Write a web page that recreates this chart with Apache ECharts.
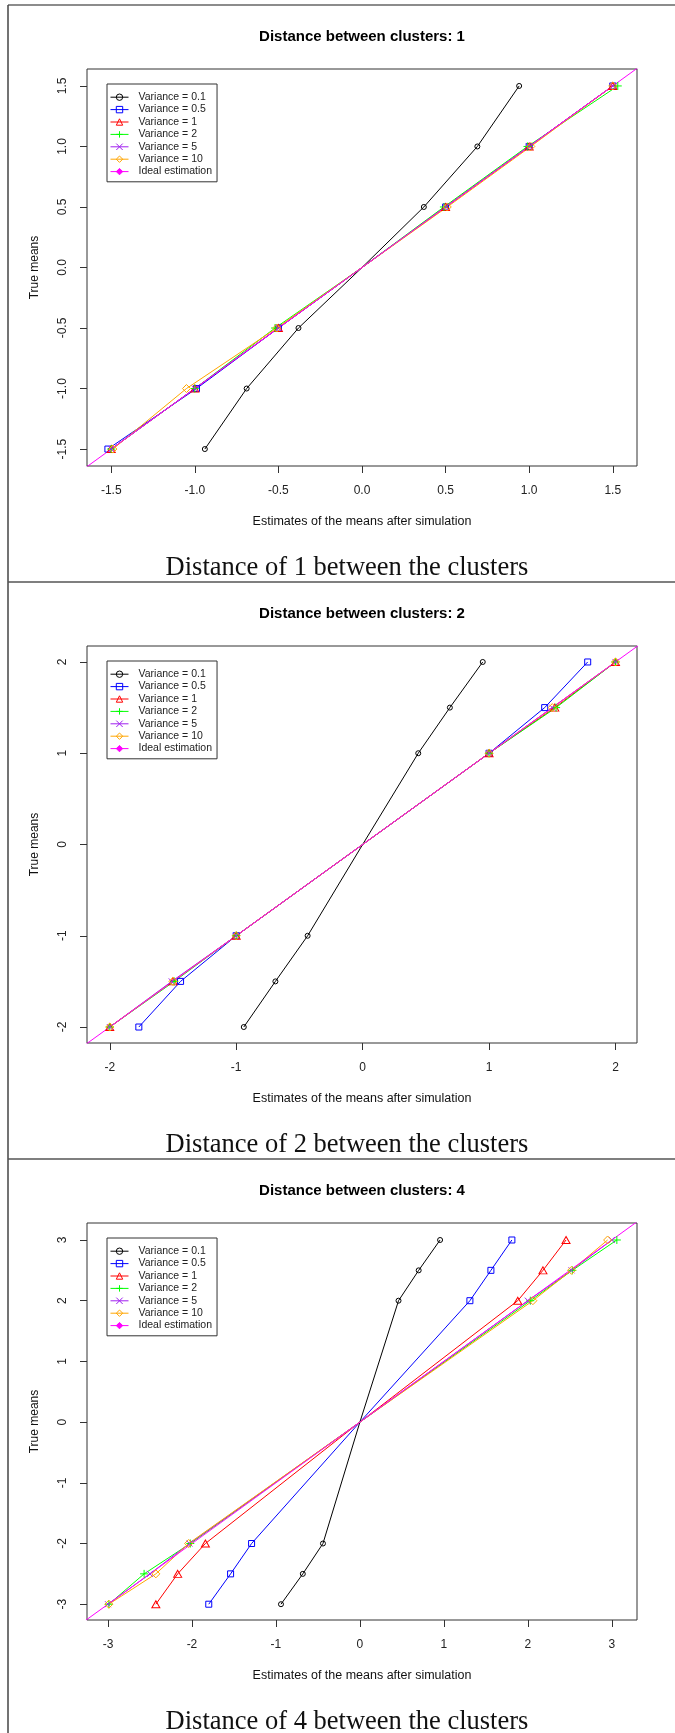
<!DOCTYPE html>
<html>
<head>
<meta charset="utf-8">
<script src="https://cdn.jsdelivr.net/npm/echarts@6/dist/echarts.min.js"></script>
<style>
  html, body { margin: 0; padding: 0; background: #fff; }
  #main { width: 675px; height: 1733px; }
</style>
</head>
<body>
<div id="main"></div>
<script>
// legend names, one per simulated variance + the y = x reference
const seriesNames = ['Variance = 0.1', 'Variance = 0.5', 'Variance = 1', 'Variance = 2', 'Variance = 5', 'Variance = 10', 'Ideal estimation'];

// distance between clusters for each panel
const distances = [1, 2, 4];

// true means (y) for each panel
const trueMeans1 = [-1.5, -1, -0.5, 0, 0.5, 1, 1.5];
const trueMeans2 = [-2, -1.5, -1, 0, 1, 1.5, 2];
const trueMeans3 = [-3, -2.5, -2, 0, 2, 2.5, 3];

// estimated means (x), panel 1
const est1_v01 = [-0.94, -0.69, -0.38, 0, 0.37, 0.69, 0.94];
const est1_v05 = [-1.52, -0.99, -0.5, 0, 0.5, 1.0, 1.5];
const est1_v1  = [-1.5, -1.0, -0.5, 0, 0.5, 1.0, 1.5];
const est1_v2  = [-1.5, -1.0, -0.52, 0, 0.49, 0.99, 1.53];
const est1_v5  = [-1.5, -1.0, -0.5, 0, 0.5, 1.0, 1.5];
const est1_v10 = [-1.49, -1.05, -0.51, 0, 0.51, 1.01, 1.5];

// estimated means (x), panel 2
const est2_v01 = [-0.94, -0.69, -0.435, 0, 0.44, 0.69, 0.95];
const est2_v05 = [-1.77, -1.44, -1.0, 0, 1.0, 1.44, 1.78];
const est2_v1  = [-2.0, -1.5, -1.0, 0, 1.0, 1.52, 2.0];
const est2_v2  = [-2.0, -1.49, -1.0, 0, 1.0, 1.53, 2.0];
const est2_v5  = [-2.0, -1.51, -1.0, 0, 1.0, 1.5, 2.0];
const est2_v10 = [-2.0, -1.5, -1.0, 0, 1.0, 1.5, 2.0];

// estimated means (x), panel 3
const est3_v01 = [-0.94, -0.68, -0.44, 0, 0.46, 0.70, 0.955];
const est3_v05 = [-1.80, -1.54, -1.29, 0, 1.31, 1.56, 1.81];
const est3_v1  = [-2.43, -2.17, -1.84, 0, 1.88, 2.18, 2.455];
const est3_v2  = [-2.99, -2.57, -2.02, 0, 2.03, 2.53, 3.06];
const est3_v5  = [-3.0, -2.5, -2.03, 0, 2.0, 2.52, 3.0];
const est3_v10 = [-2.99, -2.43, -2.04, 0, 2.06, 2.52, 2.95];

// tick labels
const ticks1 = [-1.5, -1, -0.5, 0, 0.5, 1, 1.5];
const ticks2 = [-2, -1, 0, 1, 2];
const ticks3 = [-3, -2, -1, 0, 1, 2, 3];

// axis limits [min, max]
const xLim1 = [-1.645, 1.645], yLim1 = [-1.64, 1.64];
const xLim2 = [-2.18, 2.17],   yLim2 = [-2.175, 2.175];
const xLim3 = [-3.25, 3.30],   yLim3 = [-3.26, 3.28];

// ideal estimation y = x (clipped by the plot box)
const idealLine = [-5, 5];

const panels = [
  {means: trueMeans1, est: [est1_v01, est1_v05, est1_v1, est1_v2, est1_v5, est1_v10], ticks: ticks1, xLim: xLim1, yLim: yLim1, digits: 1},
  {means: trueMeans2, est: [est2_v01, est2_v05, est2_v1, est2_v2, est2_v5, est2_v10], ticks: ticks2, xLim: xLim2, yLim: yLim2, digits: 0},
  {means: trueMeans3, est: [est3_v01, est3_v05, est3_v1, est3_v2, est3_v5, est3_v10], ticks: ticks3, xLim: xLim3, yLim: yLim3, digits: 0}
];

const colors = ['#000000', '#0000ff', '#ff0000', '#00ff00', '#a020f0', '#ffa500', '#ff00ff'];
const symbols = ['circle', 'rect', 'triangle', 'path://M0,5L10,5M5,0L5,10', 'path://M0,0L10,10M10,0L0,10', 'diamond', 'diamond'];
const symbolSizes = [5, 6, [8, 7], 8, 6, 8, 5];

const PANEL_H = 577;
const FONT = '"Liberation Sans", Arial, sans-serif';

let myChart = echarts.init(document.getElementById('main'), null, {renderer: 'canvas'});

const grids = [], xAxes = [], yAxes = [], series = [], legends = [], graphics = [];

panels.forEach((p, pi) => {
  const off = pi * PANEL_H;
  grids.push({left: 87, width: 550, top: 69 + off, height: 397, show: true, borderColor: '#333', borderWidth: 1, containLabel: false, outerBoundsMode: 'none'});
  const fmt = v => Number(v).toFixed(p.digits);
  xAxes.push({
    gridIndex: pi, type: 'value', min: p.xLim[0], max: p.xLim[1],
    name: 'Estimates of the means after simulation', nameLocation: 'middle', nameGap: 49,
    nameTextStyle: {fontFamily: FONT, fontSize: 12.5, color: '#111'},
    axisLine: {show: false, onZero: false},
    splitLine: {show: false},
    axisTick: {show: true, inside: false, length: 7, customValues: p.ticks, lineStyle: {color: '#333'}},
    axisLabel: {customValues: p.ticks, formatter: fmt, margin: 19, fontFamily: FONT, fontSize: 12, color: '#222', hideOverlap: false}
  });
  yAxes.push({
    gridIndex: pi, type: 'value', min: p.yLim[0], max: p.yLim[1],
    name: 'True means', nameLocation: 'middle', nameGap: 46, nameRotate: 90,
    nameTextStyle: {fontFamily: FONT, fontSize: 12, color: '#111'},
    axisLine: {show: false, onZero: false},
    splitLine: {show: false},
    axisTick: {show: true, inside: false, length: 7, customValues: p.ticks, lineStyle: {color: '#333'}},
    axisLabel: {customValues: p.ticks, formatter: fmt, rotate: 90, margin: 18, fontFamily: FONT, fontSize: 12, color: '#222', hideOverlap: false}
  });

  p.est.forEach((xs, si) => {
    series.push({
      name: seriesNames[si], type: 'line', xAxisIndex: pi, yAxisIndex: pi,
      symbol: symbols[si], symbolSize: symbolSizes[si],
      showAllSymbol: true,
      lineStyle: {color: colors[si], width: 1},
      itemStyle: {color: 'rgba(0,0,0,0)', borderColor: colors[si], borderWidth: 1},
      emphasis: {disabled: true},
      data: p.means.map((y, k) => {
        const item = {value: [xs[k], y]};
        if (y === 0) item.symbol = 'none';
        return item;
      })
    });
  });
  series.push({
    name: seriesNames[6], type: 'line', xAxisIndex: pi, yAxisIndex: pi,
    symbol: symbols[6], symbolSize: symbolSizes[6], showSymbol: false,
    lineStyle: {color: colors[6], width: 1},
    itemStyle: {color: colors[6], borderColor: colors[6], borderWidth: 1},
    emphasis: {disabled: true},
    clip: true,
    data: idealLine.map(v => [v, v])
  });

  legends.push({
    data: seriesNames, orient: 'vertical', left: 107, top: 84 + off,
    itemWidth: 18, itemHeight: 8, itemGap: 0, padding: [7, 5, 4, 3],
    borderColor: '#333', borderWidth: 1, backgroundColor: '#fff',
    selectedMode: false,
    itemStyle: {borderWidth: 1},
    lineStyle: {width: 1},
    textStyle: {fontFamily: FONT, fontSize: 10.5, lineHeight: 12.4, color: '#222', padding: [0, 0, 0, 5]}
  });

  graphics.push({
    type: 'text', x: 362, y: 37 + off, z: 10,
    style: {text: 'Distance between clusters: ' + distances[pi], font: 'bold 15px ' + FONT, fill: '#000', align: 'center', verticalAlign: 'middle'}
  });
  graphics.push({
    type: 'text', x: 347, y: 568 + off, z: 10,
    style: {text: 'Distance of ' + distances[pi] + ' between the clusters', font: '26.5px "Liberation Serif", "Times New Roman", serif', fill: '#111', align: 'center', verticalAlign: 'middle'}
  });
});

// page frame and separators
graphics.push({type: 'line', shape: {x1: 8, y1: 5, x2: 675, y2: 5}, style: {stroke: '#666', lineWidth: 1.5}});
graphics.push({type: 'line', shape: {x1: 8, y1: 5, x2: 8, y2: 1733}, style: {stroke: '#444', lineWidth: 1.5}});
graphics.push({type: 'line', shape: {x1: 8, y1: 582, x2: 675, y2: 582}, style: {stroke: '#555', lineWidth: 1.5}});
graphics.push({type: 'line', shape: {x1: 8, y1: 1159, x2: 675, y2: 1159}, style: {stroke: '#555', lineWidth: 1.5}});

const option = {
  animation: false,
  backgroundColor: '#fff',
  grid: grids,
  xAxis: xAxes,
  yAxis: yAxes,
  legend: legends,
  series: series,
  graphic: graphics
};
myChart.setOption(option);
</script>
</body>
</html>
